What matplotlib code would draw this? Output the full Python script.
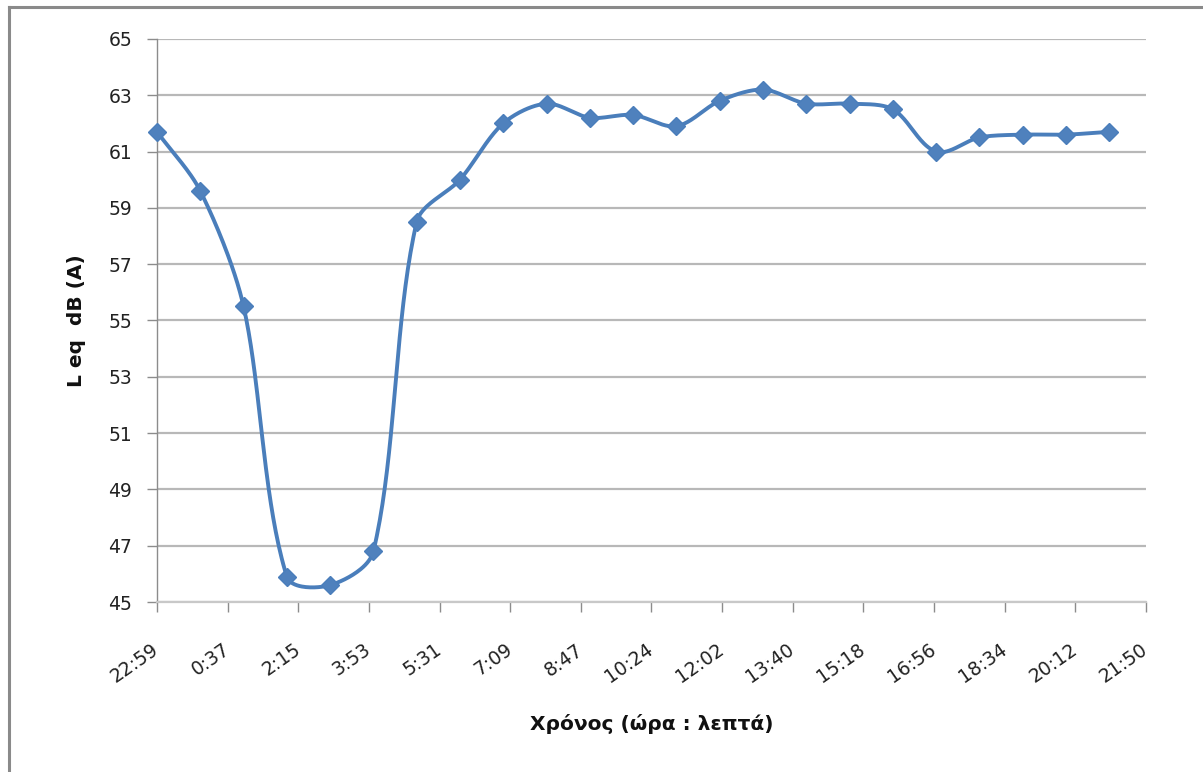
import numpy as np
import matplotlib
matplotlib.use("Agg")
import matplotlib.pyplot as plt
from matplotlib.lines import Line2D

plt.rcParams['font.family'] = ['DejaVu Sans']

# Measurement times (hh:mm) and equivalent continuous sound level
times = ["22:59", "23:59", "0:59", "1:59", "2:59", "3:59", "4:59", "5:59",
         "6:59", "7:59", "8:59", "9:59", "10:59", "11:59", "12:59", "13:59",
         "14:59", "15:59", "16:59", "17:59", "18:59", "19:59", "20:59"]
leq = [61.7, 59.6, 55.5, 45.9, 45.6, 46.8, 58.5, 60.0,
       62.0, 62.7, 62.2, 62.3, 61.9, 62.8, 63.2, 62.7,
       62.7, 62.5, 61.0, 61.5, 61.6, 61.6, 61.7]

tick_labels = ["22:59", "0:37", "2:15", "3:53", "5:31", "7:09", "8:47", "10:24",
               "12:02", "13:40", "15:18", "16:56", "18:34", "20:12", "21:50"]
y_ticks = [45, 47, 49, 51, 53, 55, 57, 59, 61, 63, 65]


def to_minutes(label, start):
    h, m = map(int, label.split(":"))
    t = h * 60 + m
    if t < start:
        t += 24 * 60
    return t


start_h, start_m = map(int, times[0].split(":"))
t0 = start_h * 60 + start_m
x = np.array([to_minutes(t, t0) - t0 for t in times], dtype=float)
y = np.array(leq, dtype=float)
xt = np.array([to_minutes(t, t0) - t0 for t in tick_labels], dtype=float)
xt[-1] = xt[-2] + (xt[1] - xt[0])

W, H = 1203, 772
left_px, right_px, top_px, bottom_px = 157, 1146, 38.9, 602
y_min, y_max = 45, 65


def smooth_curve(px, py, sx, sy, k=0.3, n=40):
    """Bezier smoothing through the points, computed in display units so the
    tangent handles scale with each segment's on-screen length."""
    pts = np.column_stack([px * sx, py * sy])
    m = len(pts)
    tang = np.zeros_like(pts)
    for i in range(m):
        a = pts[max(i - 1, 0)]
        b = pts[min(i + 1, m - 1)]
        d = b - a
        tang[i] = d / np.hypot(*d)
    out = []
    for i in range(m - 1):
        p1, p2 = pts[i], pts[i + 1]
        L = np.hypot(*(p2 - p1))
        c1 = p1 + tang[i] * L * k
        c2 = p2 - tang[i + 1] * L * k
        s = np.linspace(0, 1, n)[:, None]
        seg = ((1 - s) ** 3) * p1 + 3 * ((1 - s) ** 2) * s * c1 \
            + 3 * (1 - s) * s ** 2 * c2 + s ** 3 * p2
        out.append(seg if i == 0 else seg[1:])
    seg = np.vstack(out)
    return seg[:, 0] / sx, seg[:, 1] / sy


fig = plt.figure(figsize=(W / 100, H / 100), dpi=100)
ax = fig.add_axes([left_px / W, 1 - bottom_px / H,
                   (right_px - left_px) / W, (bottom_px - top_px) / H])

ax.set_xlim(xt[0], xt[-1])
ax.set_ylim(y_min, y_max)

px_per_min = (right_px - left_px) / (xt[-1] - xt[0])
px_per_db = (bottom_px - top_px) / (y_max - y_min)

blue = "#4a7ebb"
cx, cy = smooth_curve(x, y, px_per_min, px_per_db)
ax.plot(cx, cy, color=blue, lw=2.8, solid_capstyle="round", zorder=3, clip_on=False)
ax.plot(x, y, linestyle="none", marker="D", markersize=9, color="#4f81bd",
        markeredgecolor="#4a7ebb", zorder=4, clip_on=False)

ax.set_yticks(y_ticks)
ax.set_xticks(xt)
ax.set_xticklabels(tick_labels, rotation=35, ha="right", va="center",
                   rotation_mode="anchor")

ax.yaxis.grid(True, color="#b8b8b8", linewidth=1.6)
ax.set_axisbelow(True)
for side in ("top", "right"):
    ax.spines[side].set_visible(False)
ax.spines["left"].set_color("#8c8c8c")
ax.spines["left"].set_linewidth(1.0)
ax.spines["bottom"].set_color("#c8c8c8")
ax.spines["bottom"].set_linewidth(1.6)

ax.tick_params(axis="y", direction="out", length=7, width=1.0, color="#8c8c8c",
               pad=11, labelsize=13.5, labelcolor="#222222")
ax.tick_params(axis="x", direction="out", length=7, width=1.0, color="#8c8c8c",
               pad=26, labelsize=13.5, labelcolor="#222222")

ax.set_xlabel("Χρόνος (ώρα : λεπτά)", fontsize=14.5, fontweight="bold",
              color="#111111", labelpad=20)
ax.set_ylabel("L eq  dB (A)", fontsize=14.5, fontweight="bold",
              color="#111111", labelpad=16)

# Outer chart frame
fig.add_artist(Line2D([9 / W, 9 / W], [0, 1 - 7 / H], transform=fig.transFigure,
                      color="#8a8a8a", lw=2.2))
fig.add_artist(Line2D([9 / W, 1], [1 - 7 / H, 1 - 7 / H], transform=fig.transFigure,
                      color="#8a8a8a", lw=2.2))

fig.savefig("out.png", dpi=100, facecolor="white")
